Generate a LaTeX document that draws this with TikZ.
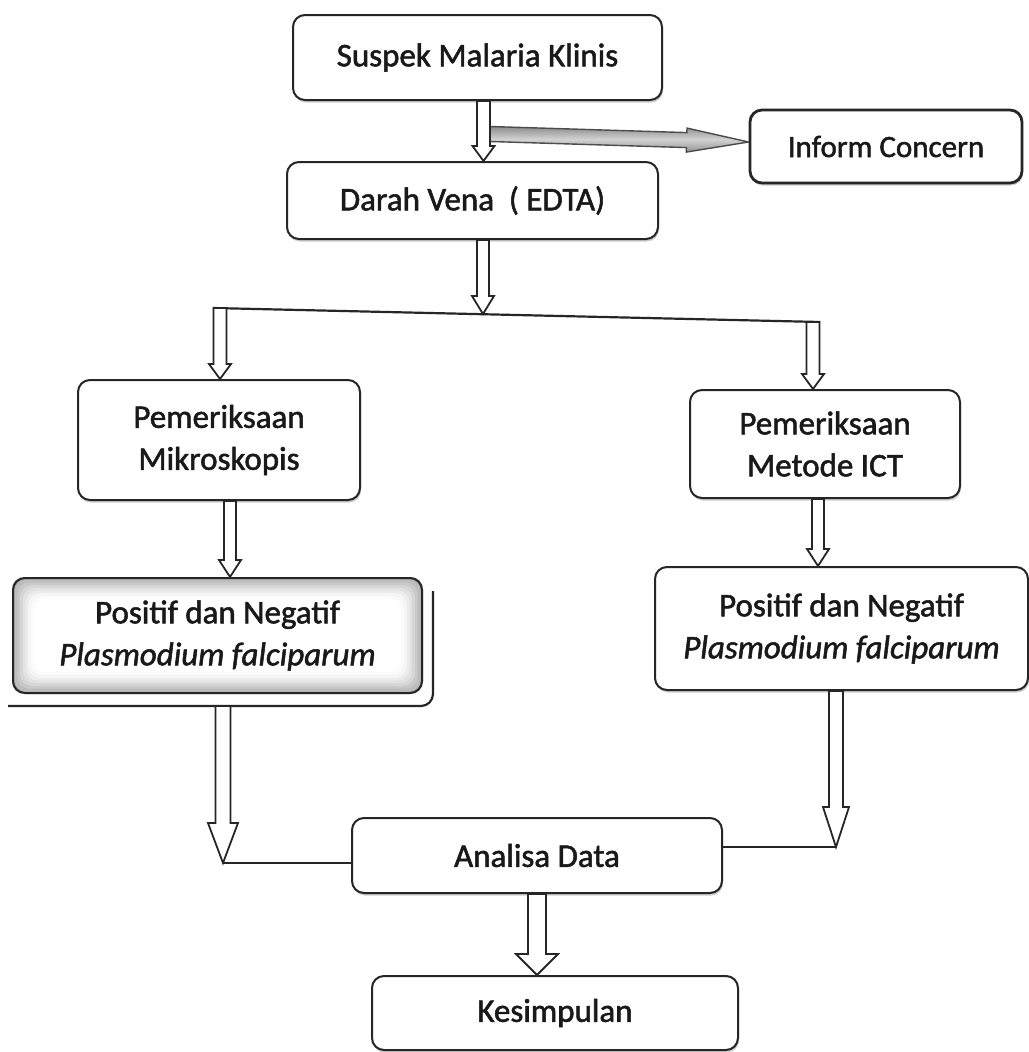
\documentclass[tikz,border=0pt]{standalone}
\usepackage{fontspec}
\setmainfont{Carlito}[FakeBold=1.6]
\usetikzlibrary{calc,shadows}
\pgfdeclarelayer{bg}
\pgfdeclarelayer{arr}
\pgfsetlayers{bg,arr,main}
% block arrow: #1 style, #2 start, #3 tip, #4 shaft half width, #5 head half width, #6 head length
\newcommand\blockarrow[6]{%
  \path (#2) coordinate (bas) (#3) coordinate (bat);
  \coordinate (bah) at ($(bat)!#6!(bas)$);
  \path[#1] ($(bas)!#4!90:(bat)$) -- ($(bah)!#4!-90:(bas)$) -- ($(bah)!#5!-90:(bas)$) -- (bat)
     -- ($(bah)!#5!90:(bas)$) -- ($(bah)!#4!90:(bas)$) -- ($(bas)!#4!-90:(bat)$) -- cycle;}
\tikzset{
  boxbase/.style={draw=black!85, line width=2pt, rounded corners=12pt, align=center,
    font=\fontsize{33}{42}\selectfont, text=black!90, inner sep=0pt},
  box/.style={boxbase, fill=white, drop shadow={shadow xshift=1pt, shadow yshift=-2.5pt, opacity=0.4}},
  barr/.style={draw=black!85, fill=white, line width=1.8pt, line join=miter},
  garr/.style={draw=black!70, line width=1.4pt, line join=miter, top color=gray!90, bottom color=gray!85, middle color=gray!35},
  conn/.style={draw=black!85, line width=2.2pt}
}
\begin{document}
\begin{tikzpicture}[x=1pt,y=-1pt]
\useasboundingbox (0,0) rectangle (1028,1052);

% nodes
\node[box, minimum width=369pt, minimum height=85pt] (sus) at (477.5,57.5) {Suspek Malaria Klinis};
\node[box, line width=2.8pt, font=\fontsize{31}{38}\selectfont, minimum width=272pt, minimum height=73pt] (ic) at (886,146.5) {Inform Concern};
\node[box, minimum width=371pt, minimum height=77pt] (dar) at (472.5,200.5) {Darah Vena\ \ ( EDTA)};
\node[box, minimum width=282pt, minimum height=120pt] (mik) at (219,440) {Pemeriksaan\\Mikroskopis};
\node[box, minimum width=270pt, minimum height=108pt] (ict) at (825,444) {Pemeriksaan\\Metode ICT};
\node[boxbase, minimum width=409pt, minimum height=115pt] (pl) at (217.5,635.5) {Positif dan Negatif\\\textit{Plasmodium falciparum}};
\node[box, minimum width=373pt, minimum height=123pt] (pr) at (841.5,628.5) {Positif dan Negatif\\\textit{Plasmodium falciparum}};
\node[box, minimum width=370pt, minimum height=75pt] (ana) at (537,855.5) {Analisa Data};
\node[box, minimum width=366pt, minimum height=74pt] (kes) at (555,1013) {Kesimpulan};

% white page and shaded fill of the left result box
\begin{pgfonlayer}{bg}
  \fill[white] (0,0) rectangle (1028,1052);
  \foreach \i/\c in {0/62,1/52,2/42,3/32,4/23,5/15,6/8,7/3,8/0} {
    \fill[gray!\c, rounded corners=12pt] ([shift={(\i*2.7,\i*2.7)}]pl.north west) rectangle ([shift={(-\i*2.7,-\i*2.7)}]pl.south east);
  }
\end{pgfonlayer}
% offset frame lines of the left result box
\draw[conn, rounded corners=12pt] ([shift={(10,14)}]pl.north east) -- ([shift={(10,12)}]pl.south east) -- ([shift={(-4,12)}]pl.south west);

% junction coordinates
\coordinate (g0) at (490,134);
\coordinate (g1) at ([yshift=4.5pt]ic.west);
\coordinate (bl) at (220,308);
\coordinate (br) at (813,322);
\coordinate (bm) at (483,314);
\coordinate (jl) at (223,863);
\coordinate (jr) at (836,847);

\begin{pgfonlayer}{arr}
\blockarrow{garr}{g0}{g1}{7.5pt}{12pt}{62pt}
\draw[conn] ([xshift=-7pt]bl) -- ([xshift=7pt]br);
\end{pgfonlayer}
\blockarrow{barr}{[xshift=6pt]sus.south}{bas |- dar.north}{6.5pt}{11pt}{15pt}
\blockarrow{barr}{[xshift=10.5pt]dar.south}{bas |- bm}{6pt}{11pt}{18pt}
\blockarrow{barr}{bl}{bas |- mik.north}{6.5pt}{11pt}{15pt}
\blockarrow{barr}{br}{bas |- ict.north}{6.5pt}{11pt}{15pt}
\blockarrow{barr}{[xshift=11pt]mik.south}{bas |- pl.north}{6pt}{11pt}{17pt}
\blockarrow{barr}{[xshift=-7pt]ict.south}{bas |- pr.north}{6pt}{11pt}{17pt}
\blockarrow{barr}{[shift={(5.5,12)}]pl.south}{jl}{7.5pt}{15pt}{40pt}
\blockarrow{barr}{[xshift=-5.5pt]pr.south}{jr}{7pt}{13pt}{40pt}
\blockarrow{barr}{ana.south}{bas |- kes.north}{9pt}{21pt}{21pt}

\draw[conn] (jl) -- (jl -| ana.west);
\draw[conn] (jr) -- (jr -| ana.east);
\end{tikzpicture}
\end{document}
